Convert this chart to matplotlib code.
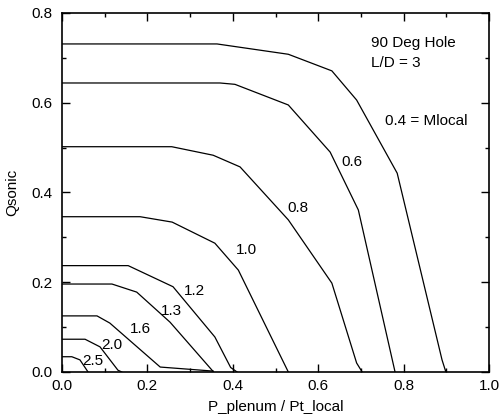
import matplotlib
matplotlib.use("Agg")
import matplotlib.pyplot as plt
from matplotlib.ticker import MultipleLocator, FormatStrFormatter

plt.rcParams['font.family'] = ['Liberation Sans', 'DejaVu Sans']

# Curves of constant Mlocal: P_plenum/Pt_local (x) vs Qsonic (y)
m04_x = [0.0, 0.363, 0.53, 0.632, 0.69, 0.785, 0.89, 0.899]
m04_y = [0.731, 0.731, 0.708, 0.671, 0.606, 0.443, 0.027, 0.0]
m06_x = [0.0, 0.37, 0.405, 0.53, 0.628, 0.694, 0.78]
m06_y = [0.644, 0.644, 0.641, 0.595, 0.49, 0.361, 0.0]
m08_x = [0.0, 0.257, 0.354, 0.417, 0.53, 0.632, 0.69, 0.703]
m08_y = [0.502, 0.502, 0.483, 0.457, 0.339, 0.198, 0.02, 0.0]
m10_x = [0.0, 0.183, 0.258, 0.358, 0.413, 0.53]
m10_y = [0.346, 0.346, 0.334, 0.287, 0.227, 0.0]
m12_x = [0.0, 0.155, 0.26, 0.358, 0.395, 0.41]
m12_y = [0.237, 0.237, 0.19, 0.078, 0.01, 0.0]
m13_x = [0.0, 0.117, 0.175, 0.253, 0.355]
m13_y = [0.196, 0.196, 0.178, 0.111, 0.0]
m16_x = [0.0, 0.082, 0.112, 0.23, 0.354]
m16_y = [0.125, 0.125, 0.109, 0.011, 0.002]
m20_x = [0.0, 0.054, 0.089, 0.131, 0.14]
m20_y = [0.073, 0.073, 0.056, 0.004, 0.0]
m25_x = [0.0, 0.023, 0.042, 0.061]
m25_y = [0.034, 0.034, 0.027, 0.0]

label_text = ["0.4 = Mlocal", "0.6", "0.8", "1.0", "1.2", "1.3", "1.6", "2.0", "2.5"]
label_x = [0.756, 0.679, 0.553, 0.433, 0.311, 0.257, 0.183, 0.117, 0.073]
label_y = [0.56, 0.468, 0.365, 0.272, 0.18, 0.136, 0.096, 0.06, 0.024]

fig = plt.figure(figsize=(5.0, 4.16), dpi=100)
ax = fig.add_axes([0.124, 0.1058, 0.854, 0.863])

curves = [(m04_x, m04_y), (m06_x, m06_y), (m08_x, m08_y), (m10_x, m10_y),
          (m12_x, m12_y), (m13_x, m13_y), (m16_x, m16_y), (m20_x, m20_y),
          (m25_x, m25_y)]
for cx, cy in curves:
    ax.plot(cx, cy, color='black', lw=0.9)

for i, (t, lx, ly) in enumerate(zip(label_text, label_x, label_y)):
    ha = 'left' if i == 0 else 'center'
    ax.text(lx, ly, t, ha=ha, va='center', fontsize=11)

ax.text(0.724, 0.733, "90 Deg Hole", ha='left', va='center', fontsize=11)
ax.text(0.724, 0.688, "L/D = 3", ha='left', va='center', fontsize=11)

ax.set_xlim(0, 1.0)
ax.set_ylim(0, 0.8)
ax.xaxis.set_major_locator(MultipleLocator(0.2))
ax.xaxis.set_minor_locator(MultipleLocator(0.1))
ax.yaxis.set_major_locator(MultipleLocator(0.2))
ax.yaxis.set_minor_locator(MultipleLocator(0.1))
ax.xaxis.set_major_formatter(FormatStrFormatter('%.1f'))
ax.yaxis.set_major_formatter(FormatStrFormatter('%.1f'))
ax.tick_params(which='both', direction='in', top=True, right=True, labelsize=11)
ax.tick_params(which='major', length=6, width=1)
ax.tick_params(which='minor', length=3, width=1)
ax.tick_params(axis='x', which='major', pad=5)
ax.tick_params(axis='y', which='major', pad=6.5)
for s in ax.spines.values():
    s.set_linewidth(1.2)

ax.set_xlabel("P_plenum / Pt_local", fontsize=11, labelpad=5)
ax.set_ylabel("Qsonic", fontsize=11, labelpad=9)

fig.savefig("out.png", dpi=100)
